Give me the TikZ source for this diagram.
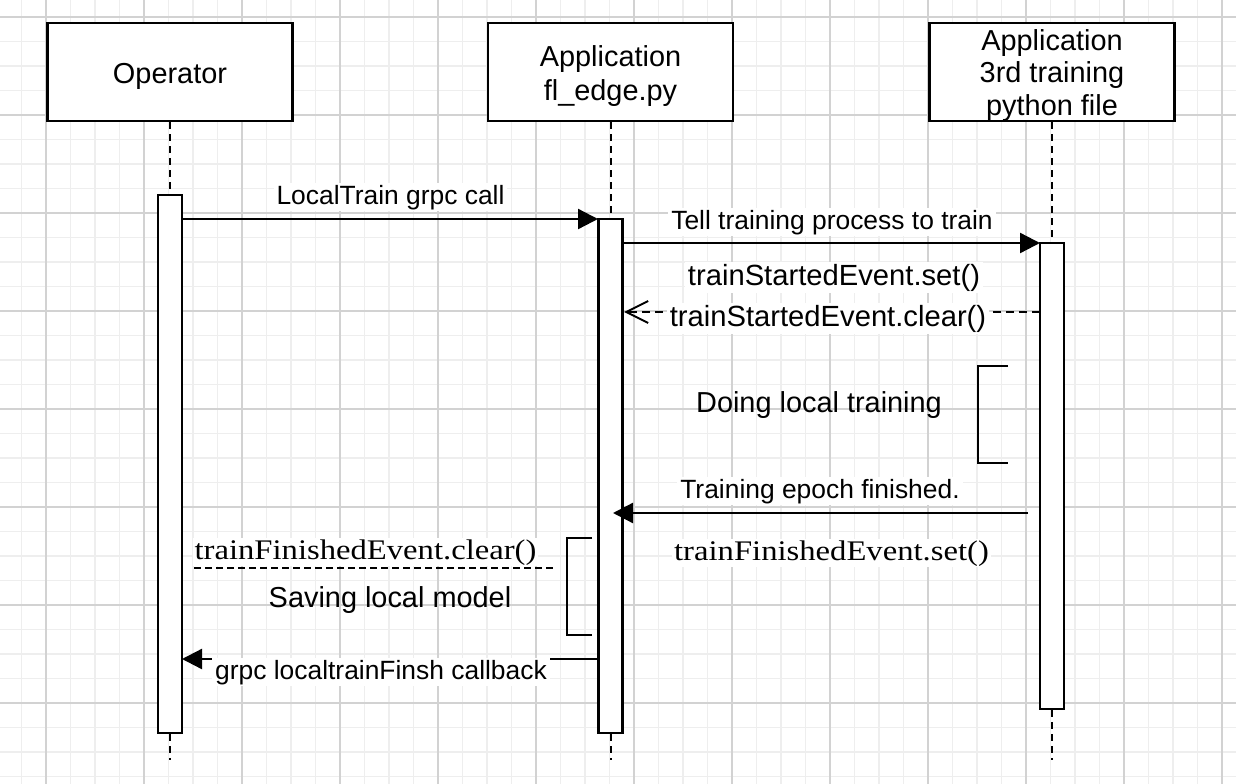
\documentclass[tikz,border=0pt]{standalone}
\usepackage{fontspec}
\setmainfont{Liberation Sans}
\newfontfamily\serifw[FakeStretch=1.15]{Liberation Serif}
\usetikzlibrary{arrows.meta}
\newcommand{\boxtext}[1]{\raisebox{-4.5bp}[\height][\depth]{\begin{tabular}{@{}c@{}}#1\end{tabular}}}
\begin{document}
\begin{tikzpicture}[x=1bp,y=-1bp,
 actor/.style={draw, line width=2.5bp, fill=white, minimum width=245bp, minimum height=98bp, inner sep=0pt, font=\fontsize{29}{34}\selectfont},
 bar/.style={draw, line width=2.3bp, fill=white, minimum width=24bp, inner sep=0pt},
 life/.style={line width=2bp, dash pattern=on 7bp off 5bp},
 msg/.style={line width=2.3bp, -{Triangle[length=20bp,width=20bp]}},
 ret/.style={line width=2bp, dash pattern=on 8bp off 5bp, -{Straight Barb[length=22bp,width=22bp]}},
 elabel/.style={anchor=base, fill=white, inner xsep=3bp, inner ysep=1.5bp, font=\fontsize{26.5}{30}\selectfont},
 biglabel/.style={elabel, font=\fontsize{29.3}{33}\selectfont},
 note/.style={anchor=base, inner sep=0pt, font=\fontsize{29}{34}\selectfont},
 seriflabel/.style={anchor=base, fill=white, inner xsep=2bp, inner ysep=1bp, font=\serifw\fontsize{28.5}{32}\selectfont},
 bracket/.style={line width=2.5bp},
 minorgrid/.style={line width=1.6bp, color=gray!13},
 majorgrid/.style={line width=1.3bp, color=gray!35},
]
\path[use as bounding box, fill=white] (0,0) rectangle (1236,784);
% grid
\begin{scope}
\clip (0,0) rectangle (1236,784);
\foreach \i [evaluate=\i as \gx using -3+24.5*\i] in {0,...,51}
  \draw[minorgrid] (\gx,0) -- (\gx,784);
\foreach \i [evaluate=\i as \gy using -7.5+24.5*\i] in {0,...,33}
  \draw[minorgrid] (0,\gy) -- (1236,\gy);
\foreach \i [evaluate=\i as \gx using 46+98*\i] in {0,...,12}
  \draw[majorgrid] (\gx,0) -- (\gx,784);
\foreach \i [evaluate=\i as \gy using 17+98*\i] in {0,...,7}
  \draw[majorgrid] (0,\gy) -- (1236,\gy);
\end{scope}

% actors
\node[actor] (op) at (170,72) {\boxtext{Operator}};
\node[actor] (app) at (610.5,72) {\boxtext{Application\\fl\_edge.py}};
\node[actor, font=\fontsize{29}{32.5}\selectfont] (trn) at (1052,72) {\boxtext{Application\\3rd training\\python file}};

% lifelines
\coordinate (opend) at (170,760);
\coordinate (append) at (610.5,760);
\coordinate (trnend) at (1052,760);
\draw[life] (op.south) -- (opend);
\draw[life] (app.south) -- (append);
\draw[life] (trn.south) -- (trnend);

% activation bars
\node[bar, minimum height=538bp] (opbar) at (170,464) {};
\node[bar, minimum height=514bp] (appbar) at (610.5,476) {};
\node[bar, minimum height=466bp] (trnbar) at (1052,476) {};

% messages
\coordinate (m1s) at (182,219);   \coordinate (m1e) at (598,219);
\coordinate (m2s) at (623,243);   \coordinate (m2e) at (1040,243);
\coordinate (m3s) at (1040,312);  \coordinate (m3e) at (624,312);
\coordinate (m4s) at (1028,513);  \coordinate (m4e) at (613,513);
\coordinate (m5s) at (598,659);   \coordinate (m5e) at (182,659);
\coordinate (sepL) at (194,568);  \coordinate (sepR) at (555,568);

\draw[msg] (m1s) -- (m1e);
\draw[msg] (m2s) -- (m2e);
\draw[ret] (m3s) -- (m3e);
\draw[msg] (m4s) -- (m4e);
\draw[msg] (m5s) -- (m5e);
\draw[line width=1.5bp, dash pattern=on 7bp off 4bp] (sepL) -- (sepR);

% self-activity brackets
\draw[bracket] (1008,366) -- (978,366) -- (978,463) -- (1008,463);
\draw[bracket] (592,538) -- (567,538) -- (567,635) -- (592,635);

% labels
\node[elabel] (l1) at (390.5,204) {LocalTrain grpc call};
\node[elabel] (l2) at (832,229) {Tell training process to train};
\node[biglabel] (l3a) at (834,285) {trainStartedEvent.set()};
\node[biglabel] (l3b) at (828,326) {trainStartedEvent.clear()};
\node[note] (l4) at (819,412) {Doing local training};
\node[elabel] (l5) at (820,498) {Training epoch finished.};
\node[seriflabel] (l6) at (831.5,560) {trainFinishedEvent.set()};
\node[seriflabel] (l7) at (365.5,559) {trainFinishedEvent.clear()};
\node[note] (l8) at (390,607) {Saving local model};
\node[elabel] (l9) at (381,679) {grpc localtrainFinsh callback};
\end{tikzpicture}
\end{document}
